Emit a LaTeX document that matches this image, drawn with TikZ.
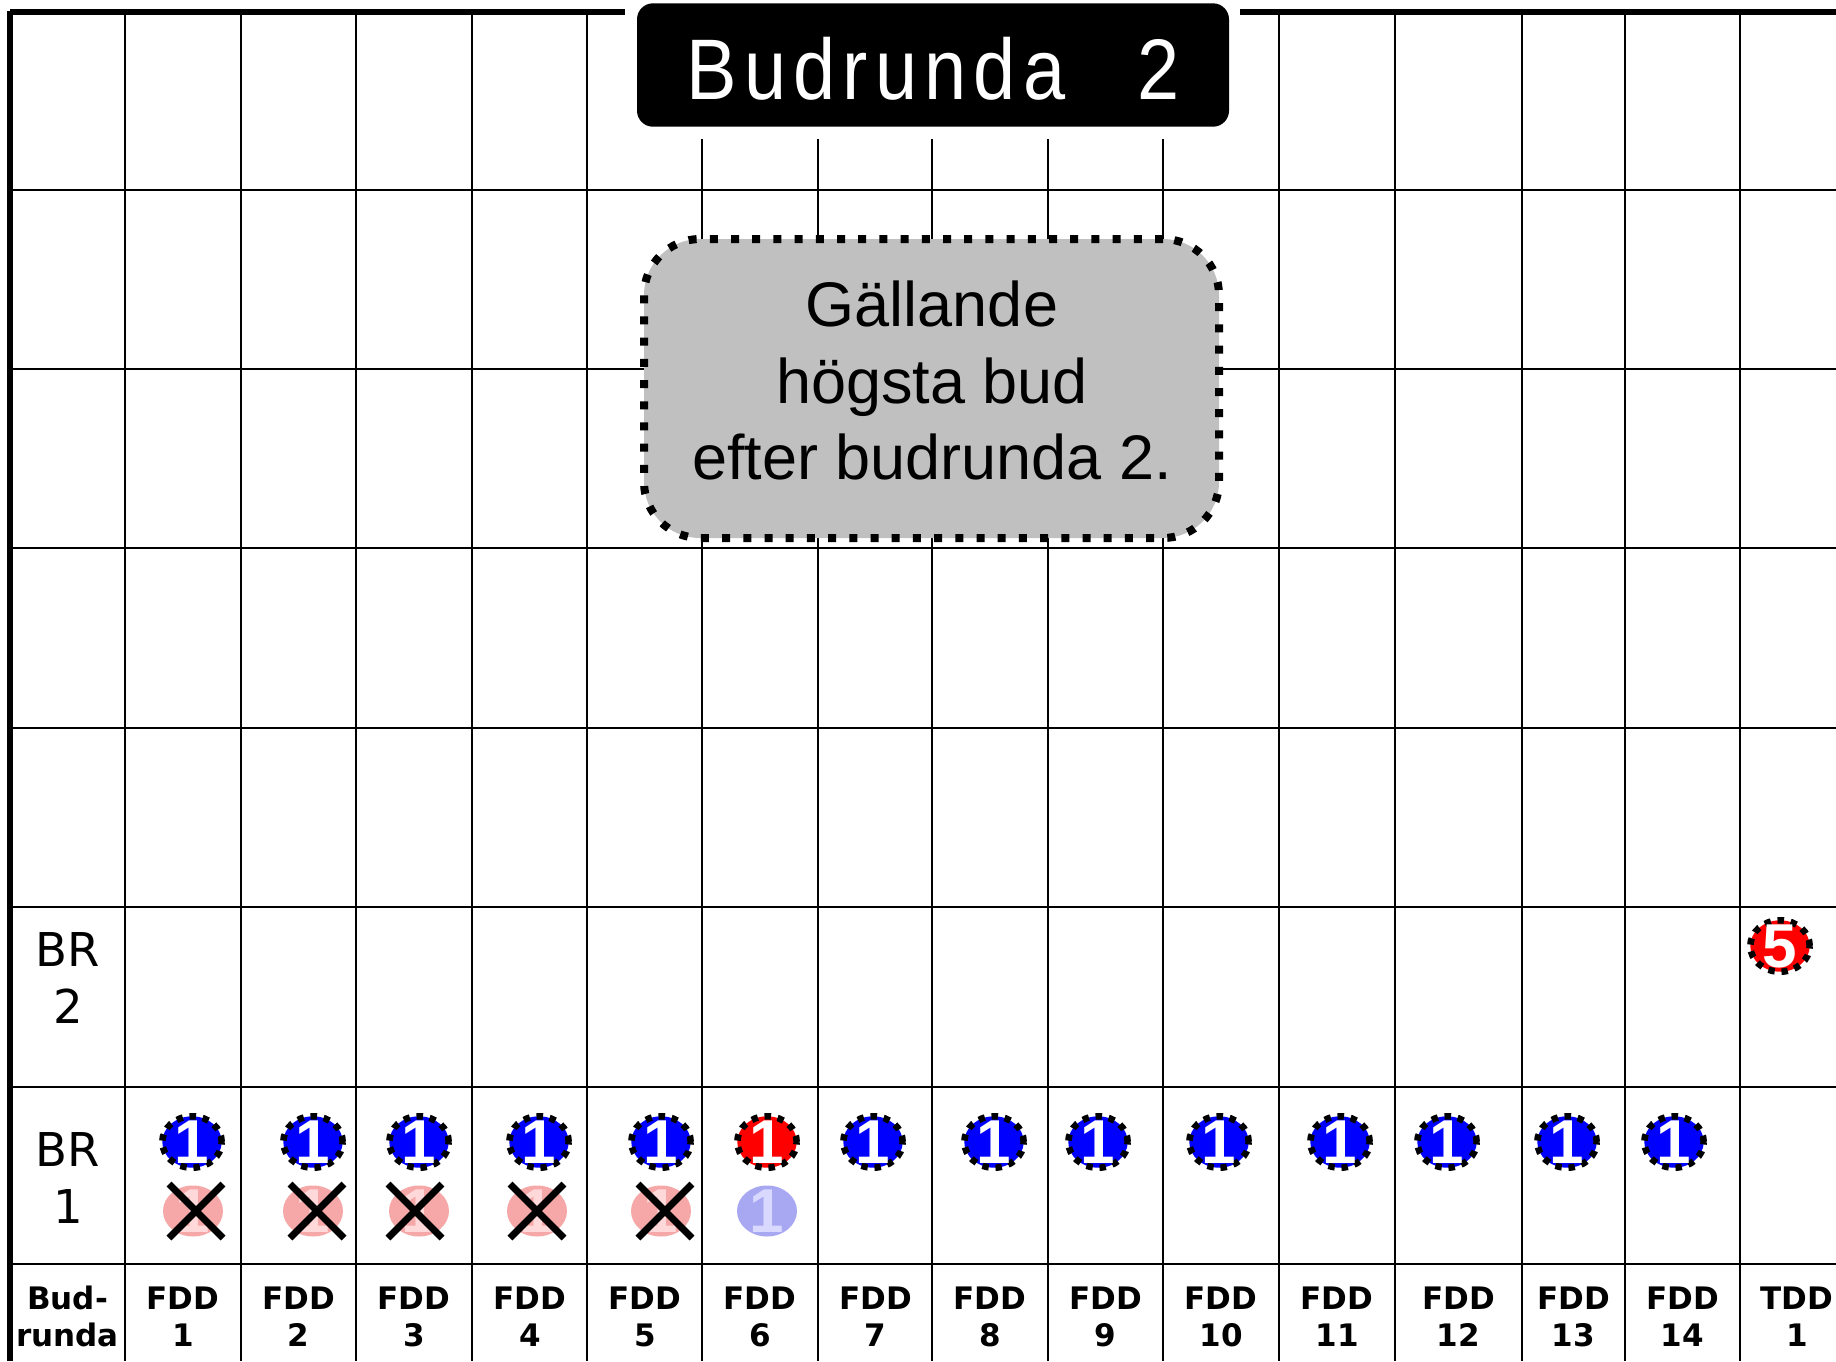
\documentclass[tikz,border=0pt]{standalone}
\usepackage{fontspec}
\setmainfont{Liberation Sans}
\newfontfamily\titlef[FakeStretch=0.88]{Liberation Sans}
\newfontfamily\chipf{Liberation Sans}
\newfontfamily\dvs{DejaVu Sans}
\usetikzlibrary{shapes.geometric}
\definecolor{boxgray}{HTML}{C0C0C0}
\definecolor{fadered}{HTML}{F6A8A8}
\definecolor{fadeblue}{HTML}{A8A8F2}
\newcommand{\trk}{\kern3.6pt}
\begin{document}
\begin{tikzpicture}[x=0.5pt,y=-0.5pt,
  gridline/.style={line width=1pt,black},
  borderline/.style={line width=3pt,black},
  chip/.style={ellipse,draw=black,fill=#1,line width=3.3pt,dash pattern=on 3.2pt off 3.4pt,
    minimum width=29.7pt,minimum height=25.7pt,inner sep=0pt},
  fadechip/.style={ellipse,fill=#1,draw=none,minimum width=30pt,minimum height=25.5pt,inner sep=0pt},
  chipnum/.style={text=white,font=\chipf\bfseries\fontsize{31}{31}\selectfont,inner sep=0pt},
  fadenum/.style={text=white!85!#1,font=\chipf\bfseries\fontsize{31}{31}\selectfont,inner sep=0pt},
  xline/.style={line width=3.5pt,black},
  brlabel/.style={anchor=base,inner sep=0pt,font=\dvs\fontsize{23.3}{28}\selectfont},
  collabel/.style={anchor=base,inner sep=0pt,font=\dvs\bfseries\fontsize{15.5}{18}\selectfont},
  infotext/.style={anchor=base,inner sep=0pt,font=\fontsize{31.5}{38}\selectfont},
]
\useasboundingbox (0,0) rectangle (1836,1361);
\fill[white] (0,0) rectangle (1836,1361);
% grid
\foreach \gx in {125,241,356,472,587,702,818,932,1048,1163,1279,1395,1522,1625,1740}
  \draw[gridline] (\gx,12) -- (\gx,1361);
\foreach \gy in {190,369,548,728,907,1087,1264}
  \draw[gridline] (10,\gy) -- (1836,\gy);
% borders
\draw[borderline] (10,12) -- (1836,12);
\draw[borderline] (10,10.5) -- (10,1361);
% title
\fill[white] (625,0) rectangle (1240,139);
\node[fill=black,rounded corners=8pt,minimum width=296pt,minimum height=61.7pt,inner sep=0pt] (title) at (933,65) {};
\node[anchor=base,inner sep=0pt,text=white,font=\titlef\fontsize{43}{44}\selectfont] (titletext) at (933,99)
  {B\trk u\trk d\trk r\trk u\trk n\trk d\trk a\kern36pt 2};
% info box
\node[draw=black,fill=boxgray,rounded corners=28pt,line width=4pt,dash pattern=on 4pt off 6.6pt,
  minimum width=287.5pt,minimum height=149.5pt,inner sep=0pt] (info) at (931.5,388.5) {};
\node[infotext] (info1) at (932,326) {Gällande};
\node[infotext] (info2) at (932,403) {högsta bud};
\node[infotext] (info3) at (932,479.5) {efter budrunda 2.};
% row labels
\node[brlabel] (br2a) at (68,966) {BR};
\node[brlabel] (br2b) at (68,1023) {2};
\node[brlabel] (br1a) at (68,1166) {BR};
\node[brlabel] (br1b) at (68,1223) {1};
% column labels
\node[collabel] (cl0a) at (67.5,1309) {Bud-};
\node[collabel] (cl0b) at (67.5,1346) {runda};
\foreach \cx/\lab/\num [count=\i] in {183/FDD/1,298.5/FDD/2,414/FDD/3,530/FDD/4,645/FDD/5,760/FDD/6,875.5/FDD/7,990/FDD/8,1105.5/FDD/9,1221/FDD/10,1337/FDD/11,1458.5/FDD/12,1573.5/FDD/13,1682.5/FDD/14,1797/TDD/1}{
  \node[collabel] (cla\i) at (\cx,1309) {\lab};
  \node[collabel] (clb\i) at (\cx,1346) {\num};
}
% BR1 chips
\foreach \cx/\col [count=\i] in {192/blue,313/blue,419/blue,539/blue,661/blue,767/red,873/blue,994/blue,1098/blue,1219/blue,1340/blue,1447/blue,1567/blue,1674/blue}{
  \node[chip=\col,label={[chipnum]center:1}] (chip\i) at (\cx,1142) {};
}
% BR2 chip
\node[chip=red,label={[chipnum]center:5}] (chipT) at (1780,946) {};
% faded earlier bids
\foreach \cx/\xx [count=\i] in {193/196,313/317,419/415,537/537,661/665}{
  \node[fadechip=fadered,label={[fadenum=red]center:1}] (fade\i) at (\cx,1211) {};
  \coordinate (xc\i) at (\xx,1211);
  \draw[xline] ([shift={(-27,-27)}]xc\i) -- ([shift={(27,27)}]xc\i);
  \draw[xline] ([shift={(27,-27)}]xc\i) -- ([shift={(-27,27)}]xc\i);
}
\node[fadechip=fadeblue,label={[fadenum=blue]center:1}] (fade6) at (767,1211) {};
\end{tikzpicture}
\end{document}
